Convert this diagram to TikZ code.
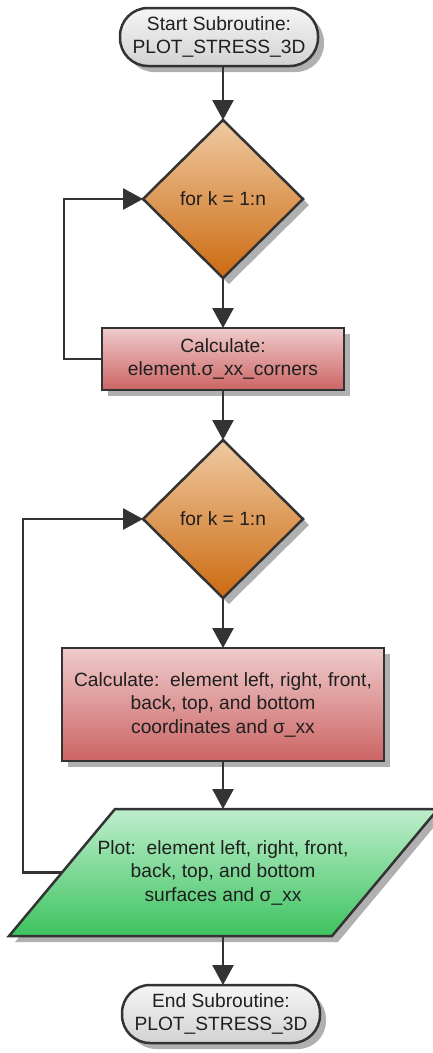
\documentclass[tikz,border=0pt]{standalone}
\usepackage{fontspec}
\setmainfont{Liberation Sans}
\usetikzlibrary{shapes.geometric,shadows,arrows.meta}

\definecolor{linegray}{HTML}{333333}
\definecolor{shadowgray}{HTML}{B0B0B0}
\definecolor{termtop}{HTML}{F5F5F5}
\definecolor{termbot}{HTML}{D2D2D2}
\definecolor{dectop}{HTML}{EFCAA2}
\definecolor{decbot}{HTML}{CC6A10}
\definecolor{proctop}{HTML}{EFCBCB}
\definecolor{procbot}{HTML}{CC6464}
\definecolor{iotop}{HTML}{BEEECD}
\definecolor{iobot}{HTML}{3DC35F}

\tikzset{
  chartfont/.style={font=\fontsize{19.2}{23.5}\selectfont, text=black!88},
  boxshadow/.style={drop shadow={shadow xshift=6pt, shadow yshift=-6pt, fill=shadowgray, opacity=1}},
  outline/.style={draw=linegray, line width=2.5pt},
  shapebase/.style={chartfont, outline, inner sep=0pt, outer sep=0pt, align=center, boxshadow},
  term/.style={shapebase, rectangle, rounded corners=28pt, minimum width=198pt, minimum height=58pt,
               top color=termtop, bottom color=termbot},
  decision/.style={shapebase, diamond, aspect=1, minimum width=160pt, minimum height=158pt,
                   top color=dectop, bottom color=decbot},
  process/.style={shapebase, rectangle, top color=proctop, bottom color=procbot},
  iofill/.style={outline, boxshadow, top color=iotop, bottom color=iobot},
  iotext/.style={chartfont, align=center, inner sep=0pt, outer sep=0pt, minimum height=127pt},
  flow/.style={draw=linegray, line width=2.8pt, -{Triangle[length=20pt, width=21pt]}},
}

\begin{document}
\begin{tikzpicture}[x=1pt, y=-1pt]
\useasboundingbox (0,0) rectangle (433,1053);

% flowchart nodes, top to bottom
\node[term] (start) at (219,37) {Start Subroutine:\\PLOT\_STRESS\_3D};
\node[decision] (loopA) at (223,199) {for k = 1:n};
\node[process, minimum width=242pt, minimum height=62pt] (corners) at (223,359)
  {Calculate:\\element.σ\_xx\_corners};
\node[decision] (loopB) at (223,519) {for k = 1:n};
\node[process, minimum width=322pt, minimum height=113pt] (coords) at (223,704.5)
  {Calculate:\ \ element left, right, front,\\back, top, and bottom\\coordinates and σ\_xx};

% input/output parallelogram (its right tip runs past the page edge)
\coordinate (plotTL) at (115,809);
\coordinate (plotTR) at (438,809);
\coordinate (plotBR) at (332,936);
\coordinate (plotBL) at (9,936);
\coordinate (plotLeft) at (62,872.5);
\path[iofill] (plotTL) -- (plotTR) -- (plotBR) -- (plotBL) -- cycle;
\node[iotext] (plot) at (223,872.5)
  {Plot:\ \ element left, right, front,\\back, top, and bottom\\surfaces and σ\_xx};

\node[term] (finish) at (221,1014) {End Subroutine:\\PLOT\_STRESS\_3D};

% main flow
\draw[flow] (start.south -| loopA.north) -- (loopA.north);
\draw[flow] (loopA.south) -- (corners.north);
\draw[flow] (corners.south) -- (loopB.north);
\draw[flow] (loopB.south) -- (coords.north);
\draw[flow] (coords.south) -- (plot.north);
\draw[flow] (plot.south) -- (plot.south |- finish.north);

% loop-back connectors
\draw[flow] (corners.west) -- ++(-38,0) |- (loopA.west);
\draw[flow] (plotLeft) -- ++(-39,0) |- (loopB.west);
\end{tikzpicture}
\end{document}
